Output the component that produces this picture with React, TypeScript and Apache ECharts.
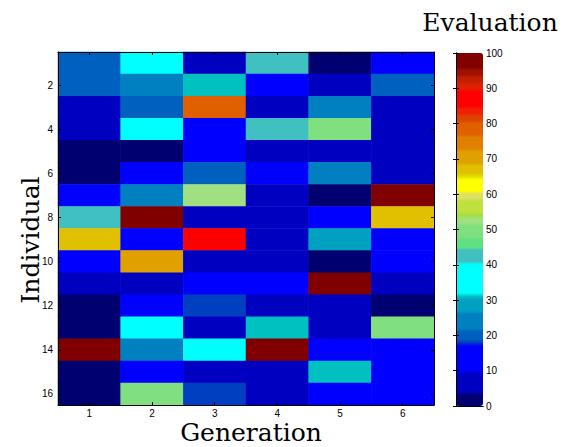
import React, { useEffect, useRef } from "react";
import * as echarts from "echarts";

const generations = ["1", "2", "3", "4", "5", "6"];
const individuals = ["1", "2", "3", "4", "5", "6", "7", "8", "9", "10", "11", "12", "13", "14", "15", "16"];

// evaluation per individual (row) and generation (column)
const evaluations: number[][] = [
  [20, 35, 6, 42, 2, 13],
  [20, 24, 31, 14, 6, 20],
  [6, 20, 78, 6, 24, 6],
  [6, 35, 13, 42, 49, 6],
  [2, 2, 13, 6, 6, 6],
  [2, 13, 20, 13, 24, 6],
  [13, 24, 52, 6, 2, 98],
  [42, 98, 6, 6, 13, 67],
  [67, 13, 87, 6, 28, 13],
  [13, 70, 6, 6, 2, 13],
  [6, 6, 13, 13, 98, 6],
  [2, 13, 18, 6, 6, 2],
  [2, 35, 6, 31, 6, 49],
  [98, 24, 35, 98, 13, 13],
  [2, 13, 6, 6, 31, 13],
  [2, 49, 18, 6, 13, 13],
];

// colormap bands: [upper bound, colour]
const bandUpper = [3.4, 9.7, 17.3, 18.7, 21.6, 26.7, 30, 31.5, 40.6, 44, 47.1, 51.6, 53.2, 54.6, 58.4, 60.1, 64.1, 65.5, 68.8, 72.1, 76.7, 80, 82.8, 84.4, 89.6, 91, 93.9, 95.5, 100];
const bandColor = ["#000070", "#0000c0", "#0000ff", "#0040c0", "#0060c0", "#0080c0", "#00a0c0", "#00c0c0", "#00ffff", "#40c0c0", "#60e080", "#80e080", "#a0e080", "#a0e040", "#c0e040", "#e0e060", "#ffff00", "#e0e000", "#e0c000", "#e0a000", "#e08000", "#e06000", "#e04000", "#f02000", "#ff0000", "#e02000", "#c02000", "#a01000", "#800000"];

const colorSteps = 401;
const colorList: string[] = [];
for (let k = 0; k < colorSteps; k++) {
  const v = (k * 100) / (colorSteps - 1);
  let idx = bandUpper.findIndex((u) => v <= u);
  if (idx < 0) idx = bandColor.length - 1;
  colorList.push(bandColor[idx]);
}

const evenOnly = (i: number) => i % 2 === 1;

export default function App() {
  const ref = useRef<HTMLDivElement>(null);
  useEffect(() => {
    if (!ref.current) return;
    const chart = echarts.init(ref.current, null, { renderer: "svg" });
    const data: [number, number, number][] = [];
    evaluations.forEach((row, i) => row.forEach((v, j) => data.push([j, i, v])));
    const tickFont = { fontSize: 10, lineHeight: 10, color: "#000", fontFamily: "Liberation Sans" };
    const line = { lineStyle: { color: "#000", width: 1 } };
    const titleFont = "25px 'DejaVu Serif'";
    chart.setOption({
      animation: false,
      backgroundColor: "#fff",
      grid: [
        { left: 58, top: 52, width: 376, height: 353 },
        { left: 456, top: 53, width: 27, height: 353 },
      ],
      xAxis: [
        {
          type: "category", gridIndex: 0, data: generations, position: "bottom",
          axisLine: { show: true, ...line },
          axisTick: { show: true, inside: true, alignWithLabel: true, length: 3, ...line },
          axisLabel: { ...tickFont, margin: 3 },
          splitLine: { show: false }, z: 10,
        },
        {
          type: "category", gridIndex: 0, data: generations, position: "top",
          axisLine: { show: true, ...line },
          axisTick: { show: true, inside: true, alignWithLabel: true, length: 3, ...line },
          axisLabel: { show: false }, splitLine: { show: false }, z: 10,
        },
        {
          type: "value", gridIndex: 1, min: 0, max: 1, position: "bottom",
          axisLine: { show: true, ...line }, axisTick: { show: false }, axisLabel: { show: false },
          splitLine: { show: false }, z: 10,
        },
        {
          type: "value", gridIndex: 1, min: 0, max: 1, position: "top",
          axisLine: { show: true, ...line }, axisTick: { show: false }, axisLabel: { show: false },
          splitLine: { show: false }, z: 10,
        },
      ],
      yAxis: [
        {
          type: "category", gridIndex: 0, data: individuals, inverse: true, position: "left",
          axisLine: { show: true, ...line },
          axisTick: { show: true, inside: true, alignWithLabel: true, length: 3, interval: evenOnly, ...line },
          axisLabel: { ...tickFont, margin: 5, interval: evenOnly },
          splitLine: { show: false }, z: 10,
        },
        {
          type: "category", gridIndex: 0, data: individuals, inverse: true, position: "right",
          axisLine: { show: true, ...line },
          axisTick: { show: true, inside: true, alignWithLabel: true, length: 3, interval: evenOnly, ...line },
          axisLabel: { show: false }, splitLine: { show: false }, z: 10,
        },
        {
          type: "value", gridIndex: 1, min: 0, max: 100, interval: 10, position: "right",
          axisLine: { show: true, ...line },
          axisTick: { show: true, inside: true, length: 3, ...line },
          axisLabel: { ...tickFont, margin: 3 },
          splitLine: { show: false }, z: 10,
        },
        {
          type: "value", gridIndex: 1, min: 0, max: 100, interval: 10, position: "left",
          axisLine: { show: true, ...line },
          axisTick: { show: true, inside: true, length: 3, ...line },
          axisLabel: { show: false }, splitLine: { show: false }, z: 10,
        },
      ],
      visualMap: {
        type: "continuous", min: 0, max: 100, dimension: 2, seriesIndex: 0,
        calculable: false, orient: "vertical", left: 456, top: 53,
        itemWidth: 27, itemHeight: 353, padding: 0, inRange: { color: colorList },
        textStyle: { color: "rgba(0,0,0,0)" },
      },
      graphic: [
        { type: "text", x: 251, y: 432, style: { text: "Generation", font: titleFont, lineHeight: 18, fill: "#000", align: "center", verticalAlign: "middle" } },
        { type: "text", x: 490, y: 22, style: { text: "Evaluation", font: titleFont, lineHeight: 20, fill: "#000", align: "center", verticalAlign: "middle" } },
        { type: "text", x: 30, y: 240, rotation: Math.PI / 2, style: { text: "Individual", font: titleFont, lineHeight: 20, fill: "#000", align: "center", verticalAlign: "middle" } },
      ],
      series: [
        {
          type: "heatmap", xAxisIndex: 0, yAxisIndex: 0, data,
          itemStyle: { borderWidth: 0 }, emphasis: { disabled: true },
        },
      ],
    });
    return () => chart.dispose();
  }, []);
  return (
    <div
      ref={ref}
      style={{ position: "fixed", left: 0, top: 0, width: 570, height: 447, background: "#fff" }}
    />
  );
}
